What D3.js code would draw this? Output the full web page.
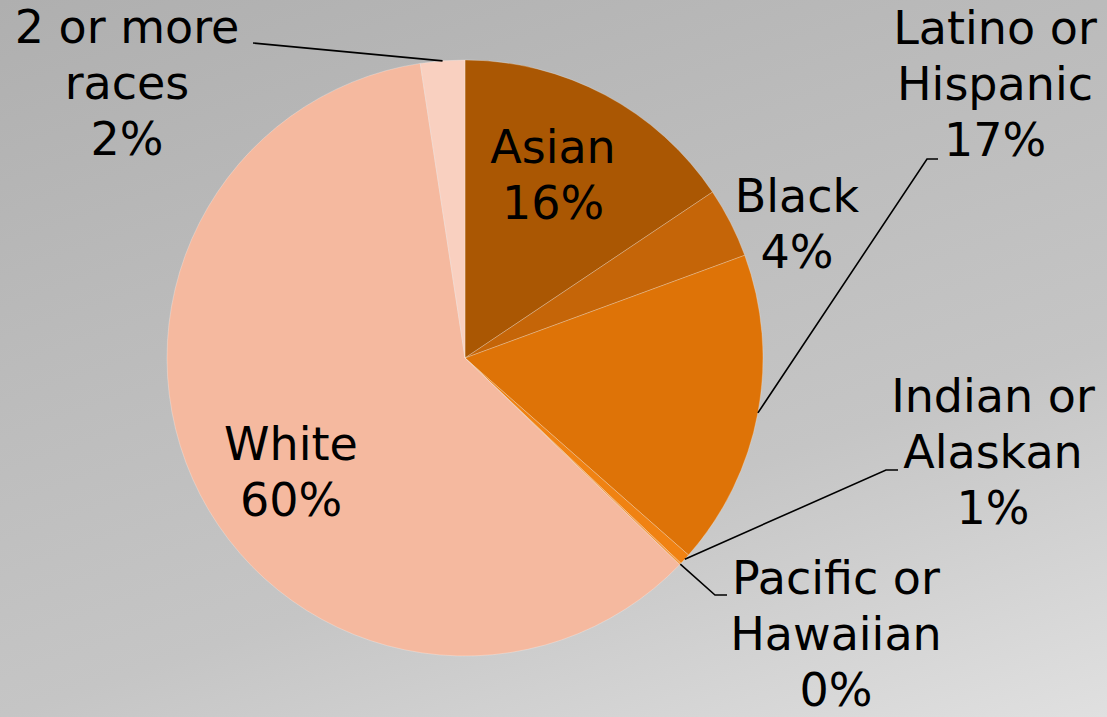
<!DOCTYPE html>
<html>
<head>
<meta charset="utf-8">
<script src="https://cdn.jsdelivr.net/npm/d3@7"></script>
<style>
  html, body { margin: 0; padding: 0; background: #fff; }
  svg { display: block; }
</style>
</head>
<body>
<svg id="chart" width="1107" height="717"></svg>
<script>
// ---- Data ----
const categories = ["Asian", "Black", "Latino or Hispanic", "Indian or Alaskan", "Pacific or Hawaiian", "White", "2 or more races"];
const labelLines = [["Asian"], ["Black"], ["Latino or", "Hispanic"], ["Indian or", "Alaskan"], ["Pacific or", "Hawaiian"], ["White"], ["2 or more", "races"]];
const shares = [15.6, 3.8, 17.1, 0.6, 0.1, 60.4, 2.4];
const colors = ["#AA5703", "#C56508", "#DE7307", "#F08212", "#F49A40", "#F5B99F", "#F9D0C0"];

// ---- Layout (label anchor positions, elbows for leader lines) ----
const W = 1107, H = 717;
const cx = 465, cy = 358, R = 298;
const fontSize = 46, lineH = 56;
const labelLayout = [
  { x: 553, y: 163 },                                   // Asian (inside)
  { x: 797, y: 212 },                                   // Black
  { x: 995, y: 44, elbow: [927, 159], end: [938, 159] }, // Latino
  { x: 993, y: 412, elbow: [886, 470], end: [898, 470] },// Indian
  { x: 836, y: 594, elbow: [715, 595], end: [727, 595] },// Pacific
  { x: 291, y: 460 },                                   // White (inside)
  { x: 127, y: 43, elbow: [253, 43], end: [253, 43] }    // 2 or more
];

const svg = d3.select("#chart");
const defs = svg.append("defs");
const grad = defs.append("linearGradient")
  .attr("id", "bg").attr("gradientUnits", "userSpaceOnUse")
  .attr("x1", 0).attr("y1", 0).attr("x2", 330).attr("y2", 979);
[[0, "#afafaf"], [0.342, "#bbbbbb"], [0.658, "#c5c5c5"], [1, "#e0e0e0"]].forEach(([o, c]) =>
  grad.append("stop").attr("offset", o).attr("stop-color", c));
svg.append("rect").attr("width", W).attr("height", H).attr("fill", "url(#bg)");

const total = d3.sum(shares);
const pie = d3.pie().sort(null).value(d => d)(shares);
const arc = d3.arc().innerRadius(0).outerRadius(R);

const g = svg.append("g").attr("transform", `translate(${cx},${cy})`);
g.selectAll("path.slice").data(pie).join("path")
  .attr("class", "slice")
  .attr("d", arc)
  .attr("fill", (d, i) => colors[i])
  .attr("stroke", "rgba(255,255,255,0.25)")
  .attr("stroke-width", 1);

// Leader lines
const edgePoint = d => {
  const a = (d.startAngle + d.endAngle) / 2;
  return [cx + R * Math.sin(a), cy - R * Math.cos(a)];
};
pie.forEach((d, i) => {
  const L = labelLayout[i];
  if (!L.elbow) return;
  const p0 = edgePoint(d);
  svg.append("polyline")
    .attr("points", [p0, L.elbow, L.end].map(p => p.join(",")).join(" "))
    .attr("fill", "none")
    .attr("stroke", "#000")
    .attr("stroke-width", 1.6);
});

// Labels
pie.forEach((d, i) => {
  const L = labelLayout[i];
  const lines = labelLines[i].concat([Math.round(shares[i] / total * 100) + "%"]);
  const t = svg.append("text")
    .attr("x", L.x).attr("y", L.y)
    .attr("text-anchor", "middle")
    .attr("font-family", "'DejaVu Sans', Verdana, sans-serif")
    .attr("font-size", fontSize)
    .attr("fill", "#000");
  lines.forEach((s, k) => {
    t.append("tspan").attr("x", L.x).attr("dy", k === 0 ? 0 : lineH).text(s);
  });
});
</script>
</body>
</html>
